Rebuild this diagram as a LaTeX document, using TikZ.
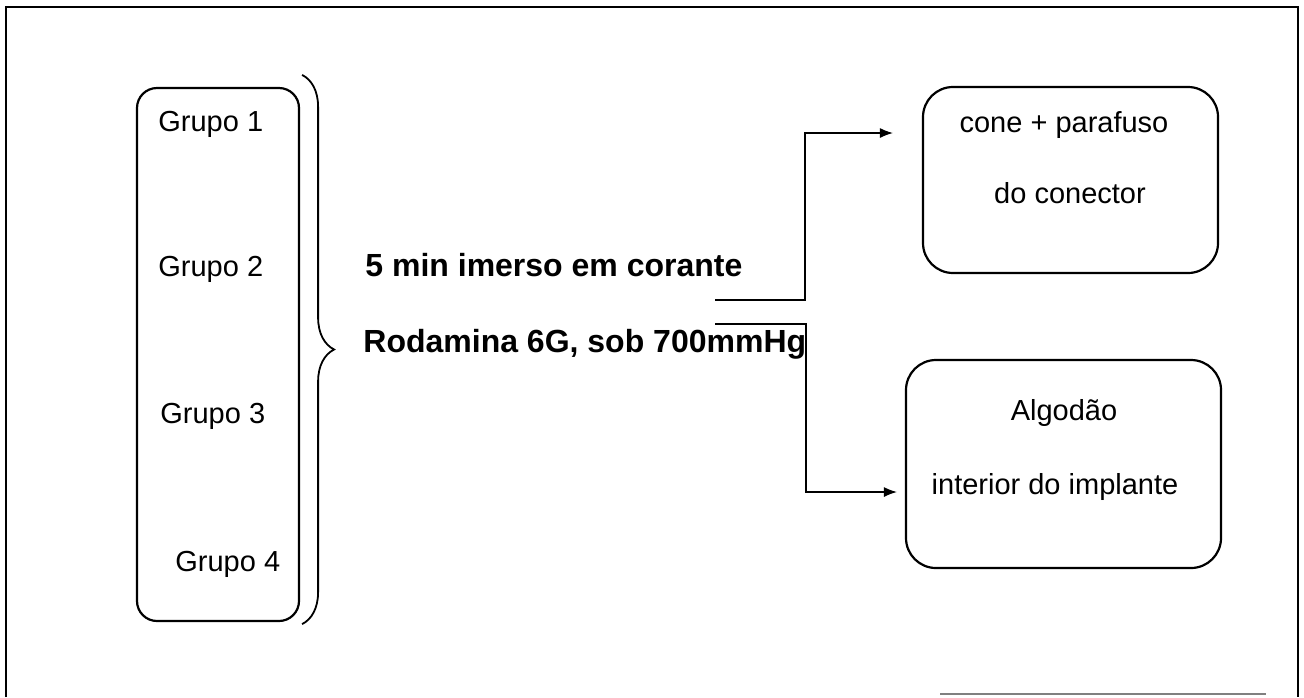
\documentclass[tikz,border=0pt]{standalone}
\usepackage{fontspec}
\setmainfont{Liberation Sans}
\usetikzlibrary{arrows.meta, positioning, decorations.pathreplacing, calc}

\begin{document}
\begin{tikzpicture}[
        x=0.5pt, y=-0.5pt,
        box/.style={rectangle, draw, line width=1.1pt, rounded corners=15pt, inner sep=0pt},
        grp/.style={font=\fontsize{14.5}{17}\selectfont, anchor=base west, inner sep=0pt},
        boxtxt/.style={font=\fontsize{14.5}{17}\selectfont, anchor=base, inner sep=0pt},
        cond/.style={font=\fontsize{16}{19}\selectfont\bfseries, anchor=base west, inner sep=0pt},
        arrow/.style={-{Latex[length=6.5pt,width=5pt]}, semithick}
    ]
    \useasboundingbox (0,0) rectangle (1304,697);

    % Frame
    \draw[line width=0.9pt] (6,697) -- (6,7) -- (1298,7) -- (1298,697);
    \draw[gray, line width=0.9pt] (940,694) -- (1266,694);

    % Groups
    \node[box, rounded corners=10pt, minimum width=81pt, minimum height=266.5pt] (grupos) at (218,354.5) {};
    \node[grp] (g1) at (158,131) {Grupo 1};
    \node[grp] (g2) at (158,276) {Grupo 2};
    \node[grp] (g3) at (160,423) {Grupo 3};
    \node[grp] (g4) at (175,571) {Grupo 4};

    % Brace
    \draw[decorate, decoration={brace, amplitude=16pt}, line width=0.9pt]
        ([xshift=1pt, yshift=6pt]grupos.north east) -- ([xshift=1pt, yshift=-1pt]grupos.south east);

    % Treatment
    \node[cond] (imerso) at (365,276) {5 min imerso em corante};
    \node[cond] (rodamina) at (363,352) {Rodamina 6G, sob 700mmHg};
    \coordinate (splitA) at (715,300);
    \coordinate (splitB) at (715,324);

    % Results
    \node[box, minimum width=147.5pt, minimum height=93pt] (cone) at (1070.5,180) {};
    \node[boxtxt] (cone1) at (1064,132) {cone + parafuso};
    \node[boxtxt] (cone2) at (1070,203) {do conector};

    \node[box, minimum width=157.5pt, minimum height=104pt] (algodao) at (1063.5,464) {};
    \node[boxtxt] (alg1) at (1064,420) {Algodão};
    \node[boxtxt] (alg2) at (1055,494) {interior do implante};

    % Edges
    \draw[arrow] (splitA) -- ++(90,0) |- ($(cone.west)+(-29,-47)$);
    \draw[arrow] (splitB) -- ++(91,0) |- ($(algodao.west)+(-8,28)$);
\end{tikzpicture}
\end{document}
